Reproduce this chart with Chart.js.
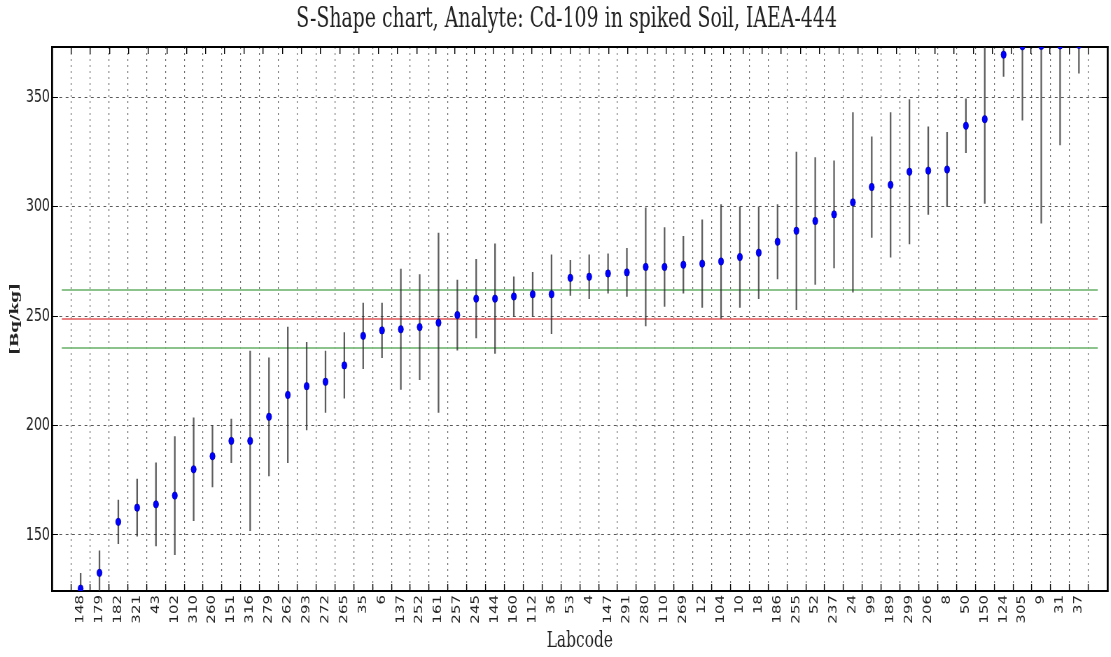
<!DOCTYPE html>
<html>
<head>
<meta charset="utf-8">
<script src="https://cdn.jsdelivr.net/npm/chart.js@4.4.0/dist/chart.umd.min.js"></script>
<style>
  html, body { margin: 0; padding: 0; overflow: hidden; background: #fff; width: 1111px; height: 657px; }
  /* the reference picture is squeezed horizontally, so draw wide and squeeze */
  #c { display: block; transform: scaleX(0.7); transform-origin: 0 0; }
</style>
</head>
<body>
<canvas id="c" width="1587" height="657"></canvas>
<script>
var labcodes = ['148', '179', '182', '321', '43', '102', '310', '260', '151', '316',
  '279', '262', '293', '272', '265', '35', '6', '137', '252', '161',
  '257', '245', '144', '160', '112', '36', '53', '4', '147', '291',
  '280', '110', '269', '12', '104', '10', '18', '186', '255', '52',
  '237', '24', '99', '189', '299', '206', '8', '50', '150', '124',
  '305', '9', '31', '37'];
var values = [125.5, 132.7, 156, 162.5, 164, 168, 180, 186, 193, 193,
  204, 214, 218, 220, 227.5, 241, 243.5, 244, 245, 247,
  250.5, 258, 258, 259, 260, 260, 267.5, 268, 269.5, 270,
  272.5, 272.5, 273.5, 274, 275, 277, 279, 284, 289, 293.5,
  296.5, 302, 309, 310, 316, 316.5, 317, 337, 340, 369.5,
  373.3, 373.5, 373.7, 374];
var uncertainties = [7, 10, 10, 13, 19, 27, 23.5, 14, 10, 41,
  27, 31, 20, 14, 15, 15, 12.5, 27.5, 24, 41,
  16, 18, 25, 9, 10, 18, 8, 10, 9, 11,
  27, 18, 13, 20, 26, 23, 21, 17, 36, 29,
  24.5, 41, 23, 33, 33, 20, 17, 12.3, 38.5, 10,
  33.7, 81, 45.5, 13];
var yTicks = [150, 200, 250, 300, 350];
var targetValue = 248.7;   // red line
var targetLow = 235.5;     // green lines
var targetHigh = 261.9;
var xMin = -1, xMax = 54, yMin = 124.4, yMax = 373.0;

var serif = "'DejaVu Serif', 'Liberation Serif', serif";
var sans = "'DejaVu Sans', 'Liberation Sans', sans-serif";

var points = values.map(function (v, i) { return { x: i, y: v }; });
var errorBars = values.map(function (v, i) { return { x: i, y: [v - uncertainties[i], v + uncertainties[i]] }; });
function hline(v) { return [{ x: xMin, y: v }, { x: xMax, y: v }]; }

function xTicks(scale) { scale.ticks = labcodes.map(function (_, i) { return { value: i }; }); }
function yTickList(scale) { scale.ticks = yTicks.map(function (v) { return { value: v }; }); }

new Chart(document.getElementById('c'), {
  type: 'scatter',
  data: {
    datasets: [
      { type: 'scatter', data: points, order: 0, clip: 0,
        backgroundColor: '#0000ff', borderColor: '#0000b0', borderWidth: 0.8, pointRadius: 3.7 },
      { type: 'bar', data: errorBars, order: 1, barThickness: 1.6, grouped: false,
        backgroundColor: 'rgba(50,50,50,0.8)', borderWidth: 0 },
      { type: 'line', data: hline(targetValue), order: 2, borderColor: 'rgba(228,100,100,0.8)',
        borderWidth: 2, pointRadius: 0 },
      { type: 'line', data: hline(targetHigh), order: 2, borderColor: 'rgba(120,185,120,0.85)',
        borderWidth: 2, pointRadius: 0 },
      { type: 'line', data: hline(targetLow), order: 2, borderColor: 'rgba(120,185,120,0.85)',
        borderWidth: 2, pointRadius: 0 }
    ]
  },
  options: {
    responsive: false,
    animation: false,
    // left padding shifts the centred title a little to the right, as in the picture
    layout: { padding: { left: 36, right: 4.1, top: 0, bottom: 0 } },
    plugins: {
      legend: { display: false },
      tooltip: { enabled: false },
      title: {
        display: true,
        text: 'S-Shape chart, Analyte: Cd-109 in spiked Soil, IAEA-444',
        color: '#222',
        font: { family: serif, size: 27, weight: 'normal' },
        padding: { top: 3.8, bottom: 10.8 }
      }
    },
    scales: {
      x: {
        type: 'linear', position: 'bottom', min: xMin, max: xMax,
        afterBuildTicks: xTicks,
        afterFit: function (s) { s.height = 66; },
        grid: { color: 'rgba(0,0,0,0.6)', lineWidth: 1.2,
          tickLength: -7, tickColor: '#000', tickWidth: 1.4 },
        border: { display: true, color: '#000', width: 2, dash: [2, 4] },
        ticks: {
          autoSkip: false, minRotation: 90, maxRotation: 90, padding: 11, color: '#222',
          font: { family: sans, size: 15 },
          callback: function (v) { return labcodes[v]; }
        },
        title: { display: true, text: 'Labcode', color: '#222',
          font: { family: serif, size: 22 }, padding: { top: 0, bottom: 3 } }
      },
      x2: {
        type: 'linear', position: 'top', min: xMin, max: xMax,
        afterBuildTicks: xTicks,
        afterFit: function (s) { s.height = 0; },
        grid: { drawOnChartArea: false, tickLength: -7, color: '#000', lineWidth: 1.4 },
        border: { display: true, color: '#000', width: 2 },
        ticks: { display: false }
      },
      y: {
        type: 'linear', position: 'left', min: yMin, max: yMax,
        afterBuildTicks: yTickList,
        afterFit: function (s) { s.width = 38.3; },
        grid: { color: 'rgba(0,0,0,0.65)', lineWidth: 1,
          tickLength: -8.6, tickColor: '#000', tickWidth: 1 },
        border: { display: true, color: '#000', width: 2.8, dash: [4, 5] },
        ticks: { padding: 11.6, color: '#222', font: { family: sans, size: 18 } },
        title: { display: true, text: '[Bq/kg]', color: '#222',
          font: { family: serif, size: 17, weight: 'bold' }, padding: { top: -24.8, bottom: 0 } }
      },
      y2: {
        type: 'linear', position: 'right', min: yMin, max: yMax,
        afterBuildTicks: yTickList,
        afterFit: function (s) { s.width = 0; },
        grid: { drawOnChartArea: false, tickLength: -8.6, color: '#000', lineWidth: 1 },
        border: { display: true, color: '#000', width: 2.8 },
        ticks: { display: false }
      }
    }
  }
});
</script>
</body>
</html>
